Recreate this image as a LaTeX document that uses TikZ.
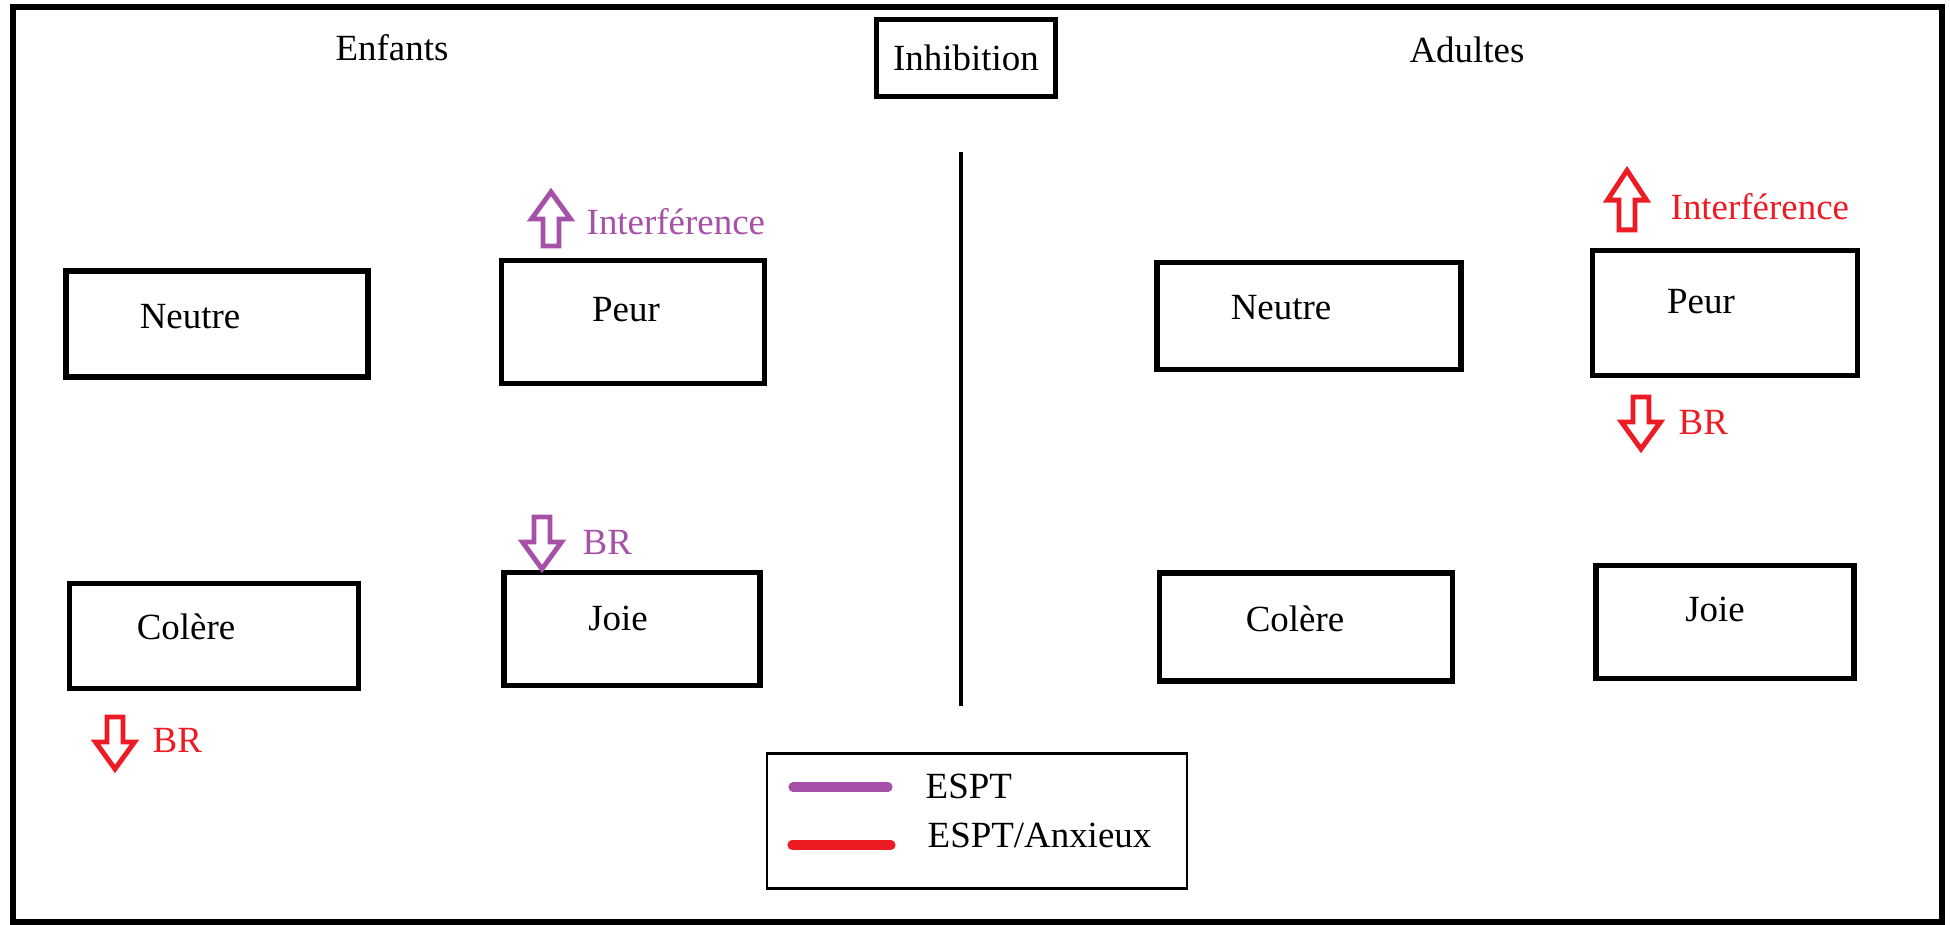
\documentclass[tikz,border=0pt]{standalone}
\usepackage{fontspec}
\setmainfont{Liberation Serif}
\usepackage{xcolor}
\usepackage{tikz}
\usetikzlibrary{positioning, calc}
\definecolor{espt}{RGB}{166,80,168}
\definecolor{anx}{RGB}{237,28,36}

\begin{document}
\begin{tikzpicture}[
  x=0.01cm, y=-0.01cm,
  font=\fontsize{10.5}{12.6}\selectfont,
  boite/.style = {rectangle, draw, line width=1.7pt, inner sep=0},
  texte/.style = {inner sep=0, anchor=base},
  note/.style  = {inner sep=0, anchor=base west},
  haut/.pic = {\draw[line width=1.4pt] (-8,-2) -- (-8,-29) -- (-19.5,-29)
                 -- (0,-56) -- (19.5,-29) -- (8,-29) -- (8,-2) -- cycle;},
  bas/.pic  = {\draw[line width=1.4pt] (-8,2) -- (-8,27) -- (-19.5,27)
                 -- (0,54) -- (19.5,27) -- (8,27) -- (8,2) -- cycle;},
]
\useasboundingbox (0,0) rectangle (1950,925);
% ── cadre ──
\draw[line width=1.7pt] (13,7) rectangle (1942,922);
% ── titres ──
\node[boite, minimum width=179*0.01cm, minimum height=77*0.01cm] (inhib) at (966,58) {Inhibition};
\node[texte] (enfants) at (392,61) {Enfants};
\node[texte] (adultes) at (1467,63) {Adultes};
\draw[line width=1.3pt] (961,152) -- (961,706);
% ── boites ──
\foreach \nom/\x/\y/\w/\h/\txt/\tx/\ty in {
    neutreE/217/324/302/106/Neutre/190/329,
    peurE/633/322/263/123/Peur/626/322,
    colereE/214/636/289/105/Colère/186/640,
    joieE/632/629/256/113/Joie/618/631,
    neutreA/1309/316/304/107/Neutre/1281/320,
    peurA/1725/313/265/125/Peur/1701/314,
    colereA/1306/627/293/108/Colère/1295/632,
    joieA/1725/622/258/113/Joie/1715/622}
{
  \node[boite, minimum width=\w*0.01cm, minimum height=\h*0.01cm] (\nom) at (\x,\y) {};
  \node[texte] (\nom-txt) at (\tx,\ty) {\txt};
}
% ── fleches ──
\pic[espt] (flecheIE) at (551,248) {haut};
\node[note, espt] (interfE) at (586,235) {Interférence};
\pic[espt] (flecheBRE) at (542,515) {bas};
\node[note, espt] (brE) at (582,555) {BR};
\pic[anx] (flecheCol) at (115,715) {bas};
\node[note, anx] (brCol) at (152,753) {BR};
\pic[anx, yscale=1.1] (flecheIA) at (1627,232) {haut};
\node[note, anx] (interfA) at (1670,220) {Interférence};
\pic[anx] (flecheBRA) at (1641,395) {bas};
\node[note, anx] (brA) at (1678,435) {BR};
% ── legende ──
\node[rectangle, draw, line width=0.7pt, minimum width=420*0.01cm,
      minimum height=135*0.01cm] (legende) at (977,821) {};
\draw[espt, line width=2.6pt, line cap=round] (793,787) -- (888,787);
\draw[anx, line width=2.6pt, line cap=round] (792,845) -- (891,845);
\node[note] (lgEspt) at (925,799) {ESPT};
\node[note] (lgAnx) at (927,848) {ESPT/Anxieux};
\end{tikzpicture}
\end{document}
